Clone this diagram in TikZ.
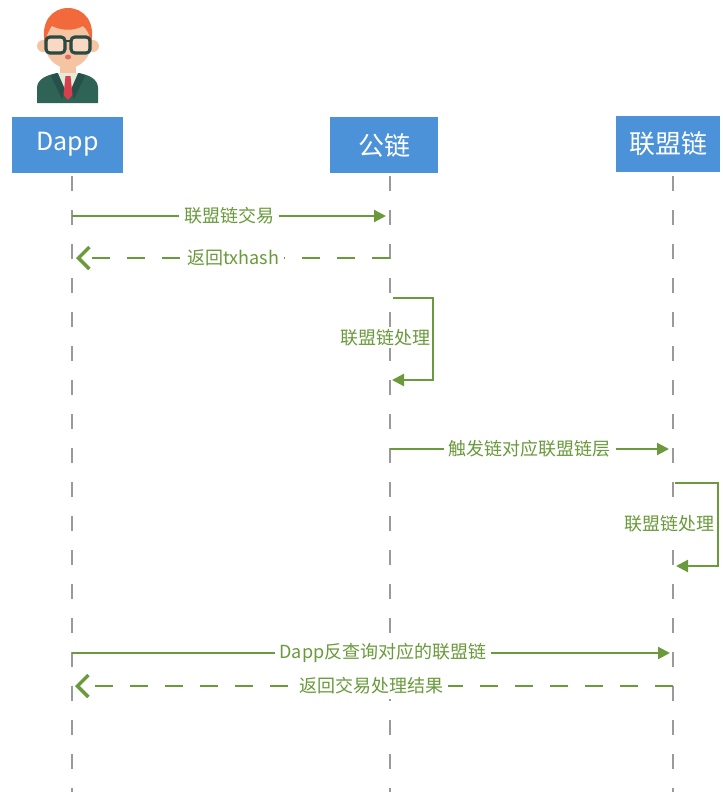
\documentclass[tikz,border=0pt]{standalone}
\usepackage{fontspec}
\setmainfont{Noto Sans CJK SC}
\usetikzlibrary{arrows.meta}
\definecolor{boxblue}{HTML}{4C92D8}
\definecolor{msggreen}{HTML}{6A9A3C}
\definecolor{lifegray}{HTML}{9A9A9A}
\definecolor{hair}{HTML}{F26A3C}
\definecolor{skin}{HTML}{F5C5A3}
\definecolor{suit}{HTML}{2F6356}
\definecolor{suitdark}{HTML}{25514A}
\definecolor{shirt}{HTML}{E6EAD9}
\definecolor{tie}{HTML}{D6404E}
\definecolor{frame}{HTML}{2B4A44}
\tikzset{
  actor/.style={fill=boxblue, text=white, minimum height=56pt, inner sep=0pt, font=\fontsize{26}{30}\selectfont},
  lifeline/.style={draw=lifegray, line width=2.5pt, dash pattern=on 15pt off 19pt},
  msg/.style={draw=msggreen, line width=2.2pt, -{Triangle[length=12pt,width=12pt]}},
  reply/.style={draw=msggreen, line width=2.2pt, dash pattern=on 18pt off 17pt, -{Straight Barb[length=11pt,width=22pt,line width=3.5pt]}},
  msglabel/.style={fill=white, text=msggreen, inner sep=5pt, font=\fontsize{18}{21}\selectfont},
}
\begin{document}
\begin{tikzpicture}[x=1pt,y=-1pt]
\useasboundingbox (0,0) rectangle (723,796);

% user icon
\fill[suit] (37,103) -- (37,88) .. controls (37,79) and (47,75) .. (57,73) -- (79,73) .. controls (89,75) and (98,79) .. (98,88) -- (98,103) -- cycle;
\fill[suitdark] (57,73) -- (51,76) -- (62,99) -- (66,90) -- cycle;
\fill[suitdark] (79,73) -- (85,76) -- (74,99) -- (70,90) -- cycle;
\fill[skin] (60,62) rectangle (76,76);
\fill[shirt] (58,73) -- (78,73) -- (68,96) -- cycle;
\fill[tie] (65.5,76) -- (70.5,76) -- (72.5,95) -- (68,100) -- (63.5,95) -- cycle;
\fill[skin] (43,46) circle (6);
\fill[skin] (93,46) circle (6);
\fill[skin] (68,44) ellipse (23 and 24);
\fill[hair] (45,44) .. controls (40,22) and (52,8) .. (68,8) .. controls (84,8) and (96,22) .. (91,44) .. controls (90,35) and (87,29) .. (83,26) .. controls (72,32) and (60,30) .. (52,26) .. controls (49,30) and (46,36) .. (45,44) -- cycle;
\draw[frame, line width=3.2pt, rounded corners=4pt] (46,37) rectangle (65,53);
\draw[frame, line width=3.2pt, rounded corners=4pt] (71,37) rectangle (90,53);
\draw[frame, line width=2.5pt] (65,41) -- (71,41);
\fill[white, opacity=0.35] (48,39) rectangle (63,51);
\fill[white, opacity=0.35] (73,39) rectangle (88,51);
\fill[tie!70!skin] (68,57) ellipse (3 and 2.5);

% actors
\node[actor, minimum width=111pt] (dapp) at (67.5,144.5) {\fontsize{25}{30}\selectfont Dapp};
\node[actor, minimum width=108pt] (pub) at (384,145) {公链};
\node[actor, minimum width=104pt] (alli) at (668,144) {联盟链};

% lifelines
\coordinate (dtop) at (72,176);   \coordinate (dbot) at (72,792);
\coordinate (ptop) at (390,176);  \coordinate (pbot) at (390,792);
\coordinate (atop) at (673,176);  \coordinate (abot) at (673,792);
\draw[lifeline] (dtop) -- (dbot);
\draw[lifeline] (ptop) -- (pbot);
\draw[lifeline] (atop) -- (abot);

% message anchors
\coordinate (m1s) at (72,216);  \coordinate (m1e) at (386,216);
\coordinate (m2s) at (390,258); \coordinate (m2e) at (76,258);
\coordinate (l1a) at (393,298); \coordinate (l1b) at (433,298);
\coordinate (l1c) at (433,380); \coordinate (l1d) at (392,380);
\coordinate (m4s) at (390,449); \coordinate (m4e) at (669,449);
\coordinate (l2a) at (675,483); \coordinate (l2b) at (718,483);
\coordinate (l2c) at (718,566); \coordinate (l2d) at (676,566);
\coordinate (m6s) at (72,653);  \coordinate (m6e) at (670,653);
\coordinate (m7s) at (673,686); \coordinate (m7e) at (75,686);

% messages
\draw[msg] (m1s) -- node[msglabel] (t1) {联盟链交易} (m1e);
\draw[reply] (m2s) -- node[msglabel] (t2) {返回txhash} (m2e);
\draw[msg] (l1a) -- (l1b) -- (l1c) -- (l1d);
\node[msglabel, inner sep=2pt] (t3) at (385,338) {联盟链处理};
\draw[msg] (m4s) -- node[msglabel] (t4) {触发链对应联盟链层} (m4e);
\draw[msg] (l2a) -- (l2b) -- (l2c) -- (l2d);
\node[msglabel, inner sep=2pt] (t5) at (669,524) {联盟链处理};
\draw[msg] (m6s) -- node[msglabel, pos=0.52] (t6) {Dapp反查询对应的联盟链} (m6e);
\draw[reply] (m7s) -- node[msglabel, pos=0.505] (t7) {返回交易处理结果} (m7e);
\end{tikzpicture}
\end{document}
